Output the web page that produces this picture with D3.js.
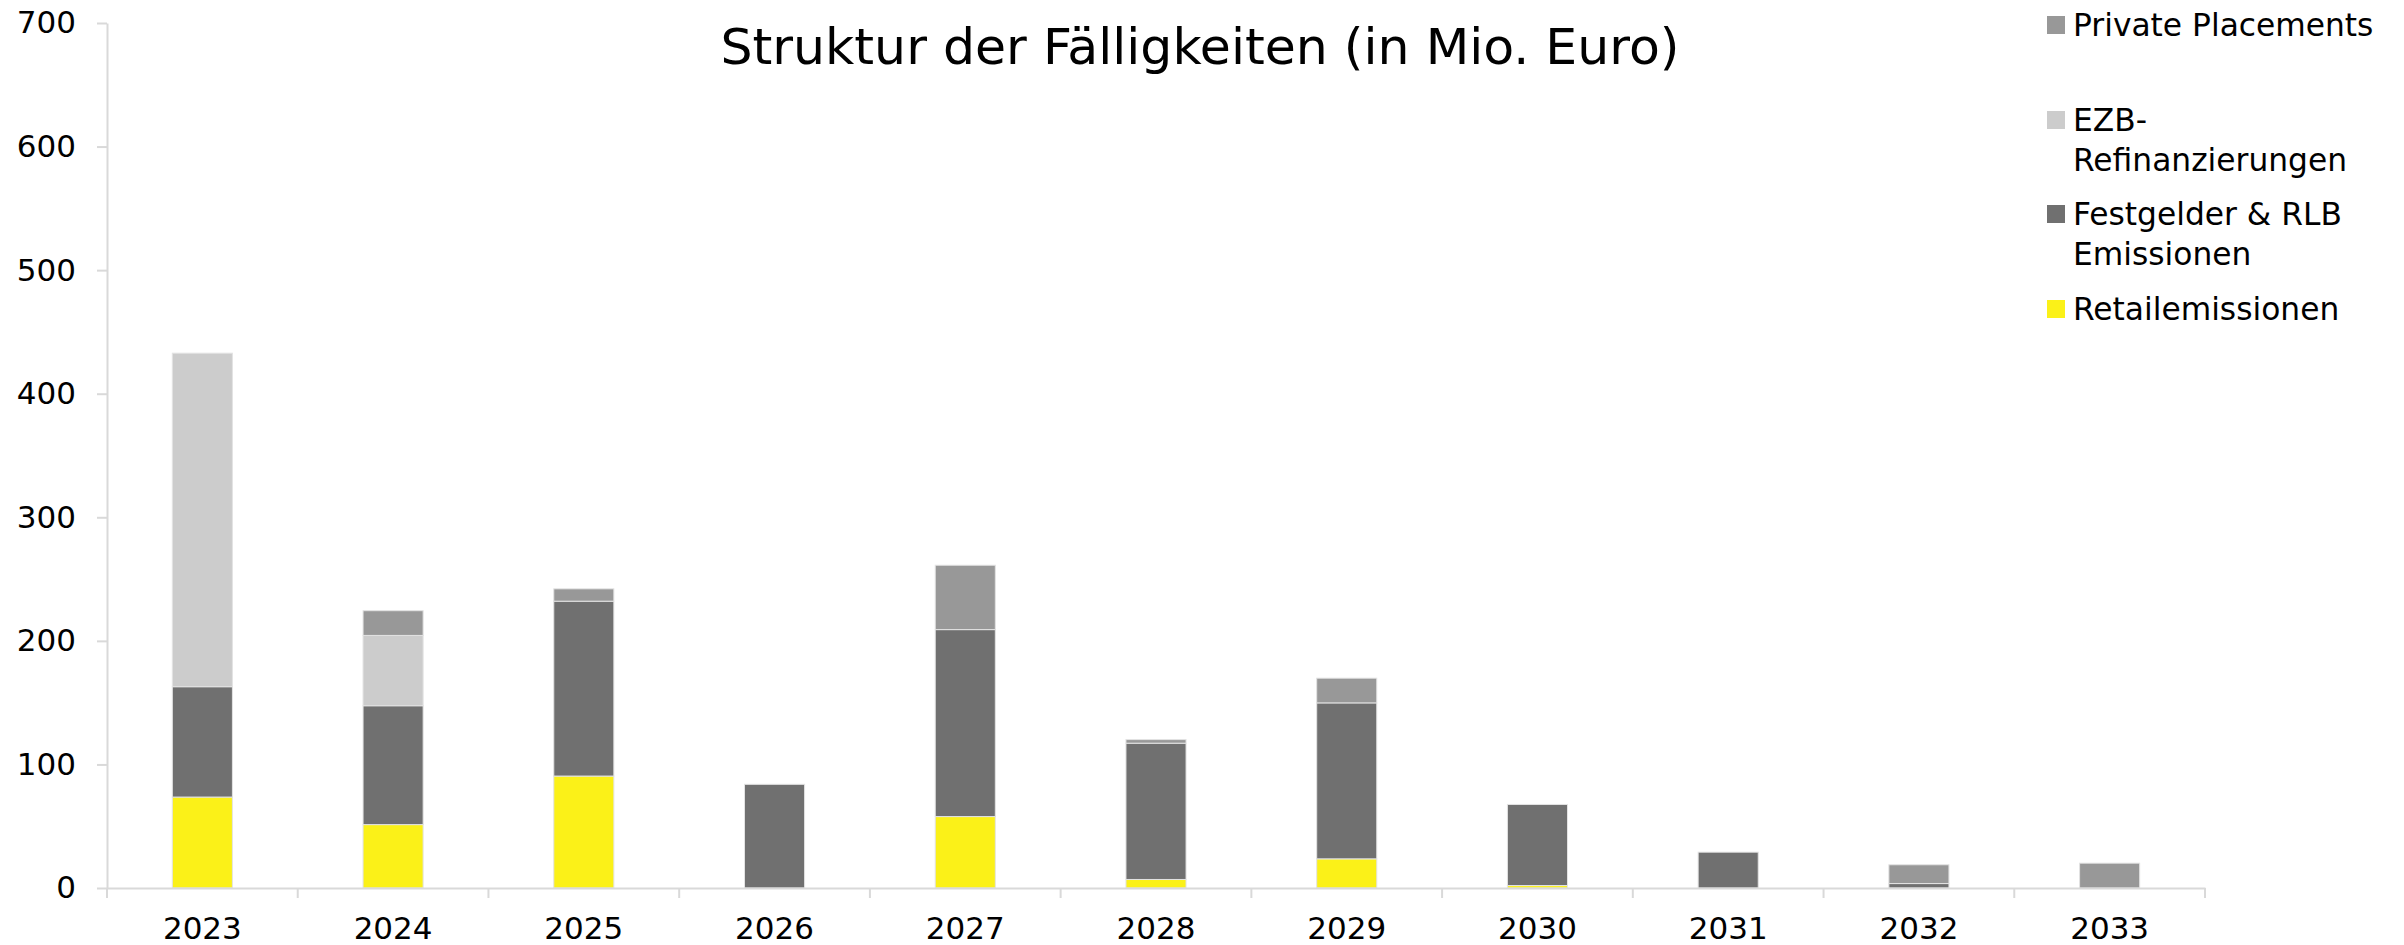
<!DOCTYPE html>
<html>
<head>
<meta charset="utf-8">
<script src="https://cdn.jsdelivr.net/npm/d3@7"></script>
<style>
  body { margin: 0; background: #fff; }
  svg { display: block; font-family: "DejaVu Sans", Verdana, sans-serif; }
</style>
</head>
<body>
<svg id="chart" width="2404" height="945"></svg>
<script>
// data (Mio. Euro)
let years = ["2023", "2024", "2025", "2026", "2027", "2028", "2029", "2030", "2031", "2032", "2033"];
let retail = [73.6, 51.3, 90.6, 0, 57.8, 6.9, 23.6, 2, 0, 0, 0];
let festgelder = [89.3, 96.2, 141.5, 83.9, 151.3, 110.3, 126.2, 65.6, 29.0, 3.6, 0];
let ezb = [269.9, 56.9, 0, 0, 0, 0, 0, 0, 0, 0, 0];
let privatePlacements = [0, 20.0, 10.0, 0, 52.1, 2.9, 20.0, 0, 0, 15.2, 20.1];
let yTicks = [0, 100, 200, 300, 400, 500, 600, 700];

let seriesKeys = ["retail", "fest", "ezb", "pp"];
let colors = { retail: "#fbf118", fest: "#707070", ezb: "#cccccc", pp: "#989898" };

let table = years.map(function (y, i) {
    return { year: y, retail: retail[i], fest: festgelder[i], ezb: ezb[i], pp: privatePlacements[i] };
});

let svg = d3.select("#chart");
let margin = { top: 23, left: 107, right: 199, bottom: 57 };
let width = 2404 - margin.left - margin.right;
let height = 945 - margin.top - margin.bottom;
let g = svg.append("g").attr("transform", "translate(" + margin.left + "," + margin.top + ")");

let axisColor = "#d9d9d9";

let x = d3.scaleBand().domain(years).range([0, width]).paddingInner(0.685).paddingOuter(0.3425);
let cells = d3.scaleBand().domain(years).range([0, width]).padding(0);
let y = d3.scaleLinear().domain([0, 700]).range([height, 0]);

// y axis
let yAxis = g.append("g")
    .call(d3.axisLeft(y).tickValues(yTicks).tickSize(10).tickSizeOuter(0).tickPadding(21));
yAxis.select(".domain").attr("stroke", axisColor).attr("stroke-width", 2);
yAxis.selectAll(".tick line").attr("stroke", axisColor).attr("stroke-width", 2);
yAxis.selectAll("text").attr("font-size", 31).attr("fill", "#000").attr("font-family", "DejaVu Sans");

// stacked bars
let stack = d3.stack().keys(seriesKeys);
let layers = stack(table);

g.selectAll(".layer")
    .data(layers)
    .enter().append("g")
    .attr("class", "layer")
    .attr("fill", function (d) { return colors[d.key]; })
    .selectAll("rect")
    .data(function (d) { return d.filter(function (s) { return s[1] - s[0] > 0; }); })
    .enter().append("rect")
    .attr("x", function (d) { return x(d.data.year); })
    .attr("y", function (d) { return y(d[1]); })
    .attr("width", x.bandwidth())
    .attr("height", function (d) { return y(d[0]) - y(d[1]); })
    .attr("stroke", "#e3e3e3")
    .attr("stroke-width", 1);

// x axis
let xAxis = g.append("g")
    .attr("transform", "translate(0," + height + ")")
    .call(d3.axisBottom(x).tickSize(0).tickPadding(29));
xAxis.select(".domain").attr("stroke", axisColor).attr("stroke-width", 2);
xAxis.selectAll("text").attr("font-size", 31).attr("fill", "#000").attr("font-family", "DejaVu Sans");

let bounds = years.map(function (d) { return cells(d); }).concat([width]);
xAxis.selectAll(".cell-tick")
    .data(bounds)
    .enter().append("line")
    .attr("class", "cell-tick")
    .attr("x1", function (d) { return d; })
    .attr("x2", function (d) { return d; })
    .attr("y1", 0)
    .attr("y2", 10)
    .attr("stroke", axisColor)
    .attr("stroke-width", 2);

// title
svg.append("text")
    .attr("x", 1200)
    .attr("y", 64)
    .attr("text-anchor", "middle")
    .attr("font-size", 50.5)
    .attr("fill", "#000")
    .text("Struktur der Fälligkeiten (in Mio. Euro)");

// legend (top to bottom: reverse stack order)
let legendItems = [
    { key: "pp", lines: ["Private Placements"], y: 16 },
    { key: "ezb", lines: ["EZB-", "Refinanzierungen"], y: 111 },
    { key: "fest", lines: ["Festgelder & RLB", "Emissionen"], y: 205 },
    { key: "retail", lines: ["Retailemissionen"], y: 300 }
];

let legend = svg.append("g");
legendItems.forEach(function (item) {
    legend.append("rect")
        .attr("x", 2047)
        .attr("y", item.y)
        .attr("width", 18)
        .attr("height", 18)
        .attr("fill", colors[item.key]);
    let t = legend.append("text")
        .attr("x", 2073)
        .attr("y", item.y + 20)
        .attr("font-size", 31.3)
        .attr("fill", "#000");
    item.lines.forEach(function (line, i) {
        t.append("tspan")
            .attr("x", 2073)
            .attr("dy", i === 0 ? 0 : 40)
            .text(line);
    });
});
</script>
</body>
</html>
